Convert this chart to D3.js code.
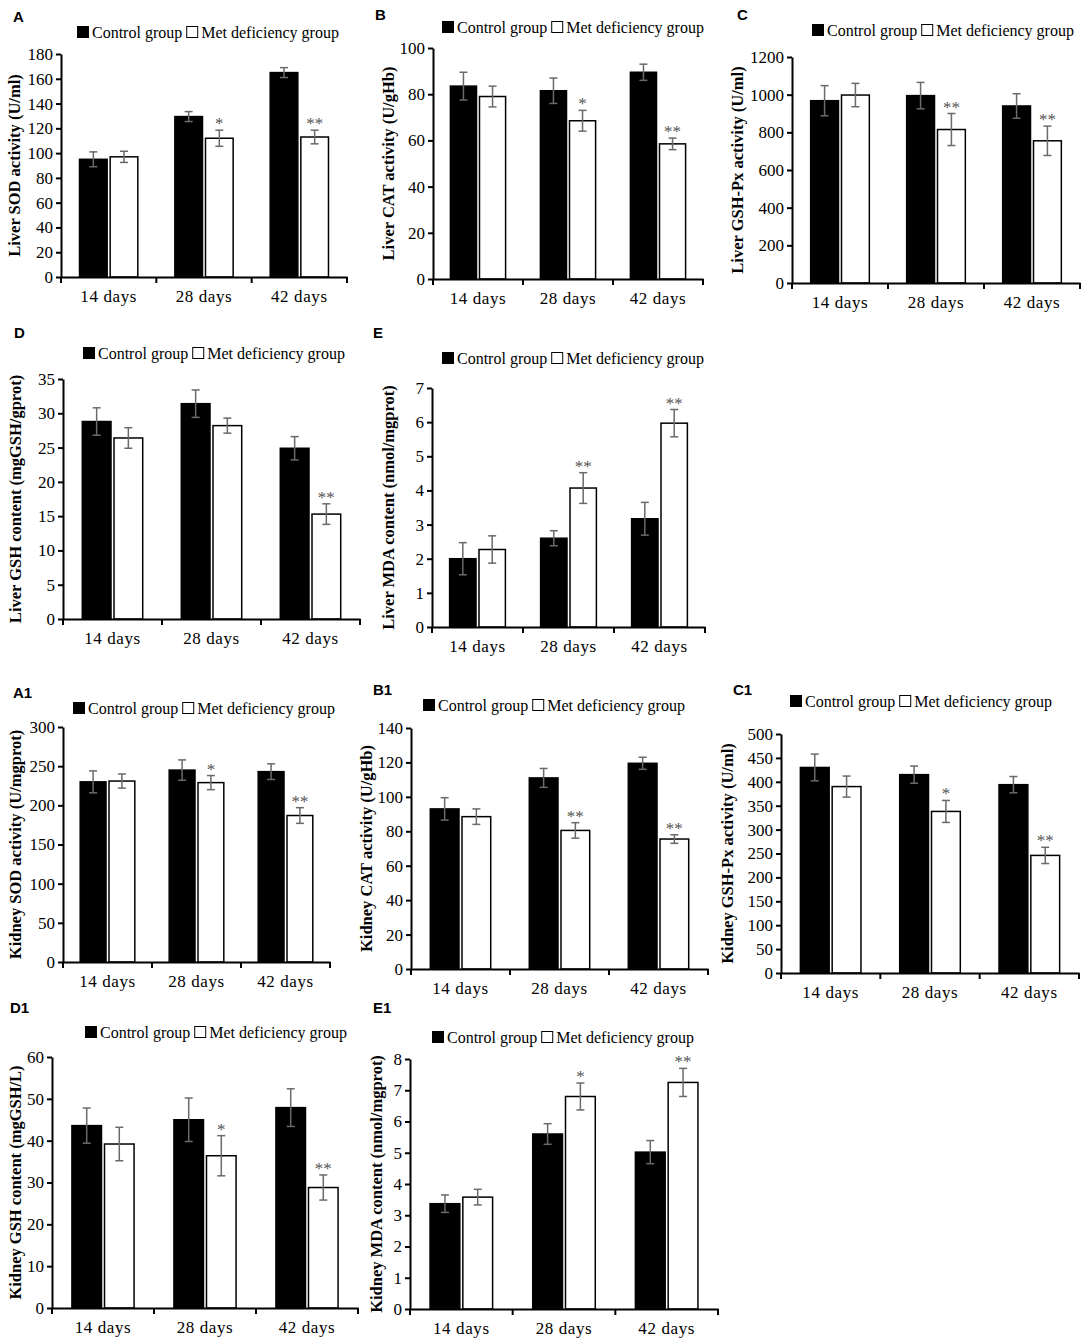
<!DOCTYPE html>
<html lang="en">
<head>
<meta charset="utf-8">
<title>Liver and kidney antioxidant indices</title>
<script src="https://d3js.org/d3.v7.min.js"></script>
<style>
    body { margin: 0; background: #fff; }
    svg { display: block; }
    text { font-family: 'Liberation Serif', 'Times New Roman', serif; fill: #000; }
    .panel-label { font-family: 'Liberation Sans', Arial, sans-serif; font-weight: bold; font-size: 15px; }
    .axis path, .axis line { stroke: #000; stroke-width: 2; }
    .ytitle { font-weight: bold; font-size: 16.5px; }
    .legend text { font-size: 16px; }
    .err { stroke: #6a6a6a; stroke-width: 1.5; }
    .star { fill: #555; font-size: 17px; }
</style>
</head>
<body>
<svg id="fig" width="1084" height="1339"></svg>
<script>
// Kategorien und Serien
var days = ["14 days", "28 days", "42 days"];
var seriesNames = ["Control group", "Met deficiency group"];

// A: Liver SOD
var liverSodCtrl = [95, 129.5, 165];
var liverSodCtrlSe = [6, 4, 4];
var liverSodMet = [97, 112, 113];
var liverSodMetSe = [4.5, 6.5, 5.5];
var liverSodStars = ["", "*", "**"];
var liverSodTicks = [0, 20, 40, 60, 80, 100, 120, 140, 160, 180];

// B: Liver CAT
var liverCatCtrl = [83.5, 81.5, 89.5];
var liverCatCtrlSe = [6, 5.5, 3.5];
var liverCatMet = [79, 68.5, 58.5];
var liverCatMetSe = [4.5, 4.5, 2.5];
var liverCatStars = ["", "*", "**"];
var liverCatTicks = [0, 20, 40, 60, 80, 100];

// C: Liver GSH-Px
var liverGpxCtrl = [968, 995, 940];
var liverGpxCtrlSe = [80, 70, 65];
var liverGpxMet = [998, 815, 755];
var liverGpxMetSe = [62, 85, 78];
var liverGpxStars = ["", "**", "**"];
var liverGpxTicks = [0, 200, 400, 600, 800, 1000, 1200];

// D: Liver GSH
var liverGshCtrl = [28.8, 31.4, 24.9];
var liverGshCtrlSe = [2, 2, 1.7];
var liverGshMet = [26.4, 28.2, 15.3];
var liverGshMetSe = [1.5, 1.1, 1.5];
var liverGshStars = ["", "", "**"];
var liverGshTicks = [0, 5, 10, 15, 20, 25, 30, 35];

// E: Liver MDA
var liverMdaCtrl = [2.0, 2.6, 3.17];
var liverMdaCtrlSe = [0.47, 0.22, 0.48];
var liverMdaMet = [2.27, 4.07, 5.97];
var liverMdaMetSe = [0.4, 0.45, 0.4];
var liverMdaStars = ["", "**", "**"];
var liverMdaTicks = [0, 1, 2, 3, 4, 5, 6, 7];

// A1: Kidney SOD
var kidneySodCtrl = [230, 245, 243];
var kidneySodCtrlSe = [14, 13, 10];
var kidneySodMet = [231, 229, 187];
var kidneySodMetSe = [9, 9, 10];
var kidneySodStars = ["", "*", "**"];
var kidneySodTicks = [0, 50, 100, 150, 200, 250, 300];

// B1: Kidney CAT
var kidneyCatCtrl = [93, 111, 119.5];
var kidneyCatCtrlSe = [6.5, 5.5, 3.5];
var kidneyCatMet = [88.5, 80.5, 75.5];
var kidneyCatMetSe = [4.5, 4.5, 2.5];
var kidneyCatStars = ["", "**", "**"];
var kidneyCatTicks = [0, 20, 40, 60, 80, 100, 120, 140];

// C1: Kidney GSH-Px
var kidneyGpxCtrl = [430, 415, 394];
var kidneyGpxCtrlSe = [28, 18, 17];
var kidneyGpxMet = [390, 338, 246];
var kidneyGpxMetSe = [22, 23, 17];
var kidneyGpxStars = ["", "*", "**"];
var kidneyGpxTicks = [0, 50, 100, 150, 200, 250, 300, 350, 400, 450, 500];

// D1: Kidney GSH
var kidneyGshCtrl = [43.6, 45, 47.9];
var kidneyGshCtrlSe = [4.2, 5.2, 4.5];
var kidneyGshMet = [39.2, 36.4, 28.8];
var kidneyGshMetSe = [4, 4.8, 3];
var kidneyGshStars = ["", "*", "**"];
var kidneyGshTicks = [0, 10, 20, 30, 40, 50, 60];

// E1: Kidney MDA
var kidneyMdaCtrl = [3.37, 5.6, 5.02];
var kidneyMdaCtrlSe = [0.28, 0.33, 0.37];
var kidneyMdaMet = [3.58, 6.8, 7.25];
var kidneyMdaMetSe = [0.25, 0.43, 0.45];
var kidneyMdaStars = ["", "*", "**"];
var kidneyMdaTicks = [0, 1, 2, 3, 4, 5, 6, 7, 8];

// Panels: Daten + Lage auf der Seite
var panels = [
    { label: "A", title: "Liver SOD activity (U/ml)", ctrl: liverSodCtrl, ctrlSe: liverSodCtrlSe, met: liverSodMet, metSe: liverSodMetSe, stars: liverSodStars, ticks: liverSodTicks,
      x0: 61, x1: 347, y0: 277, y1: 54, legX: 77, legY: 32, labX: 13, labY: 22, titleX: 14 },
    { label: "B", title: "Liver CAT activity (U/gHb)", ctrl: liverCatCtrl, ctrlSe: liverCatCtrlSe, met: liverCatMet, metSe: liverCatMetSe, stars: liverCatStars, ticks: liverCatTicks,
      x0: 433, x1: 703, y0: 279, y1: 48, legX: 442, legY: 27, labX: 375, labY: 20, titleX: 388 },
    { label: "C", title: "Liver GSH-Px activity (U/ml)", ctrl: liverGpxCtrl, ctrlSe: liverGpxCtrlSe, met: liverGpxMet, metSe: liverGpxMetSe, stars: liverGpxStars, ticks: liverGpxTicks,
      x0: 792, x1: 1080, y0: 283, y1: 57, legX: 812, legY: 30, labX: 737, labY: 20, titleX: 737 },
    { label: "D", title: "Liver GSH content (mgGSH/gprot)", ctrl: liverGshCtrl, ctrlSe: liverGshCtrlSe, met: liverGshMet, metSe: liverGshMetSe, stars: liverGshStars, ticks: liverGshTicks,
      x0: 63, x1: 360, y0: 619, y1: 379, legX: 83, legY: 353, labX: 14, labY: 338, titleX: 15 },
    { label: "E", title: "Liver MDA content (nmol/mgprot)", ctrl: liverMdaCtrl, ctrlSe: liverMdaCtrlSe, met: liverMdaMet, metSe: liverMdaMetSe, stars: liverMdaStars, ticks: liverMdaTicks,
      x0: 432, x1: 705, y0: 627, y1: 388, legX: 442, legY: 358, labX: 373, labY: 338, titleX: 388 },
    { label: "A1", title: "Kidney SOD activity (U/mgprot)", ctrl: kidneySodCtrl, ctrlSe: kidneySodCtrlSe, met: kidneySodMet, metSe: kidneySodMetSe, stars: kidneySodStars, ticks: kidneySodTicks,
      x0: 63, x1: 330, y0: 962, y1: 727, legX: 73, legY: 708, labX: 13, labY: 698, titleX: 15 },
    { label: "B1", title: "Kidney CAT activity (U/gHb)", ctrl: kidneyCatCtrl, ctrlSe: kidneyCatCtrlSe, met: kidneyCatMet, metSe: kidneyCatMetSe, stars: kidneyCatStars, ticks: kidneyCatTicks,
      x0: 411, x1: 708, y0: 969, y1: 728, legX: 423, legY: 705, labX: 373, labY: 695, titleX: 366 },
    { label: "C1", title: "Kidney GSH-Px activity (U/ml)", ctrl: kidneyGpxCtrl, ctrlSe: kidneyGpxCtrlSe, met: kidneyGpxMet, metSe: kidneyGpxMetSe, stars: kidneyGpxStars, ticks: kidneyGpxTicks,
      x0: 781, x1: 1079, y0: 973, y1: 734, legX: 790, legY: 701, labX: 733, labY: 695, titleX: 727 },
    { label: "D1", title: "Kidney GSH content (mgGSH/L)", ctrl: kidneyGshCtrl, ctrlSe: kidneyGshCtrlSe, met: kidneyGshMet, metSe: kidneyGshMetSe, stars: kidneyGshStars, ticks: kidneyGshTicks,
      x0: 52, x1: 358, y0: 1308, y1: 1057, legX: 85, legY: 1032, labX: 10, labY: 1013, titleX: 15 },
    { label: "E1", title: "Kidney MDA content (nmol/mgprot)", ctrl: kidneyMdaCtrl, ctrlSe: kidneyMdaCtrlSe, met: kidneyMdaMet, metSe: kidneyMdaMetSe, stars: kidneyMdaStars, ticks: kidneyMdaTicks,
      x0: 410, x1: 718, y0: 1309, y1: 1059, legX: 432, legY: 1037, labX: 373, labY: 1013, titleX: 376 }
];

var svg = d3.select("#fig");

panels.forEach(drawPanel);

function drawPanel(p) {
    var g = svg.append("g");

    var x = d3.scaleBand().domain(days).range([p.x0, p.x1]);
    var y = d3.scaleLinear().domain([0, p.ticks[p.ticks.length - 1]]).range([p.y0, p.y1]);

    var bw = x.bandwidth() * 0.29;
    var gap = 1.5;

    // Zeilen pro Gruppe: Kontrolle und Met-Mangel
    var rows = [];
    days.forEach(function (d, i) {
        var c = x(d) + x.bandwidth() / 2;
        rows.push({ day: d, grp: 0, v: p.ctrl[i], se: p.ctrlSe[i], x: c - gap - bw, star: "" });
        rows.push({ day: d, grp: 1, v: p.met[i], se: p.metSe[i], x: c + gap, star: p.stars[i] });
    });

    // Balken
    g.selectAll(".bar")
        .data(rows)
        .enter().append("rect")
        .attr("class", "bar")
        .attr("x", function (d) { return d.x; })
        .attr("width", bw)
        .attr("y", function (d) { return y(d.v); })
        .attr("height", function (d) { return y(0) - y(d.v); })
        .attr("fill", function (d) { return d.grp === 0 ? "#000" : "#fff"; })
        .attr("stroke", "#000")
        .attr("stroke-width", 1.5);

    // Fehlerbalken
    var eb = g.selectAll(".eb").data(rows).enter().append("g").attr("class", "eb");
    eb.append("line").attr("class", "err")
        .attr("x1", function (d) { return d.x + bw / 2; })
        .attr("x2", function (d) { return d.x + bw / 2; })
        .attr("y1", function (d) { return y(d.v - d.se); })
        .attr("y2", function (d) { return y(d.v + d.se); });
    [1, -1].forEach(function (s) {
        eb.append("line").attr("class", "err")
            .attr("x1", function (d) { return d.x + bw / 2 - 4; })
            .attr("x2", function (d) { return d.x + bw / 2 + 4; })
            .attr("y1", function (d) { return y(d.v + s * d.se); })
            .attr("y2", function (d) { return y(d.v + s * d.se); });
    });

    // Sterne ueber dem Fehlerbalken
    g.selectAll(".star")
        .data(rows.filter(function (d) { return d.star; }))
        .enter().append("text")
        .attr("class", "star")
        .attr("text-anchor", "middle")
        .attr("x", function (d) { return d.x + bw / 2; })
        .attr("y", function (d) { return y(d.v + d.se) - 1; })
        .text(function (d) { return d.star; });

    // Y-Achse
    g.append("g")
        .attr("class", "axis")
        .attr("transform", "translate(" + p.x0 + ",0)")
        .call(d3.axisLeft(y).tickValues(p.ticks).tickFormat(d3.format("d"))
            .tickSize(5).tickPadding(3).tickSizeOuter(0))
        .selectAll("text").attr("font-size", 17);

    // X-Achse
    var xa = g.append("g")
        .attr("class", "axis")
        .attr("transform", "translate(0," + p.y0 + ")")
        .call(d3.axisBottom(x).tickSize(0).tickPadding(13).tickSizeOuter(0));
    xa.selectAll("text").attr("font-size", 17).attr("letter-spacing", 0.6);
    var bounds = days.map(function (d) { return x(d); }).concat([x.range()[1]]);
    xa.selectAll(".bound")
        .data(bounds)
        .enter().append("line")
        .attr("class", "bound")
        .attr("x1", function (d) { return d; })
        .attr("x2", function (d) { return d; })
        .attr("y1", 0)
        .attr("y2", 6);

    // Achsentitel
    g.append("text")
        .attr("class", "ytitle")
        .attr("text-anchor", "middle")
        .attr("dominant-baseline", "central")
        .attr("transform", "translate(" + p.titleX + "," + ((p.y0 + p.y1) / 2) + ") rotate(-90)")
        .text(p.title);

    // Panel-Buchstabe
    g.append("text")
        .attr("class", "panel-label")
        .attr("x", p.labX)
        .attr("y", p.labY)
        .text(p.label);

    // Legende
    var leg = g.append("g").attr("class", "legend")
        .attr("transform", "translate(" + p.legX + "," + p.legY + ")");
    leg.append("rect").attr("x", 0.5).attr("y", -5.5).attr("width", 11).attr("height", 11)
        .attr("fill", "#000").attr("stroke", "#000");
    var t1 = leg.append("text").attr("x", 15).attr("y", 5.5).text(seriesNames[0]);
    var w1 = t1.node().getComputedTextLength();
    var sx = 15 + w1 + 4;
    leg.append("rect").attr("x", sx + 0.5).attr("y", -5.5).attr("width", 11).attr("height", 11)
        .attr("fill", "#fff").attr("stroke", "#000");
    leg.append("text").attr("x", sx + 15).attr("y", 5.5).text(seriesNames[1]);
}
</script>
</body>
</html>
